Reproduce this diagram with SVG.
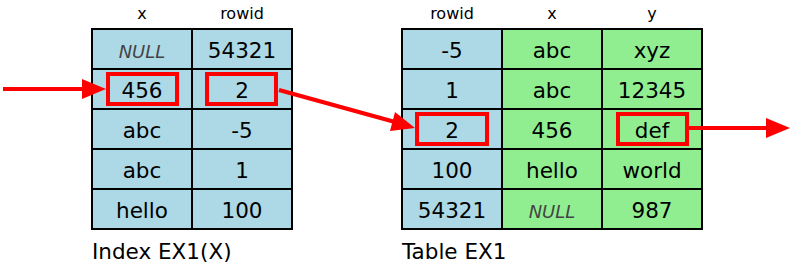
<svg xmlns="http://www.w3.org/2000/svg" width="795" height="274" viewBox="0 0 795 274">
<style>
.b{fill:#add8e6;stroke:#000;stroke-width:2}
.g{fill:#90ee90;stroke:#000;stroke-width:2}
.t{font-family:"DejaVu Sans",sans-serif;font-size:21.5px;text-anchor:middle;fill:#000}
.n{font-family:"DejaVu Sans",sans-serif;font-size:18px;font-style:italic;text-anchor:middle;fill:#444}
.h{font-family:"DejaVu Sans",sans-serif;font-size:16px;text-anchor:middle;fill:#000}
.c{font-family:"DejaVu Sans",sans-serif;font-size:21.5px;fill:#000}
.hl{fill:none;stroke:#f00;stroke-width:4}
.a{stroke:#f00;stroke-width:4;fill:none}
.ah{fill:#f00}
</style>
<g id="index">
<text class="h" x="142" y="19">x</text>
<text class="h" x="242" y="19">rowid</text>
<rect class="b" x="92" y="29" width="100" height="40"/><rect class="b" x="192" y="29" width="100" height="40"/>
<rect class="b" x="92" y="69" width="100" height="40"/><rect class="b" x="192" y="69" width="100" height="40"/>
<rect class="b" x="92" y="109" width="100" height="40"/><rect class="b" x="192" y="109" width="100" height="40"/>
<rect class="b" x="92" y="149" width="100" height="40"/><rect class="b" x="192" y="149" width="100" height="40"/>
<rect class="b" x="92" y="189" width="100" height="40"/><rect class="b" x="192" y="189" width="100" height="40"/>
<text class="n" x="142" y="58">NULL</text><text class="t" x="242" y="58">54321</text>
<text class="t" x="142" y="98">456</text><text class="t" x="242" y="98">2</text>
<text class="t" x="142" y="138">abc</text><text class="t" x="242" y="138">-5</text>
<text class="t" x="142" y="178">abc</text><text class="t" x="242" y="178">1</text>
<text class="t" x="142" y="218">hello</text><text class="t" x="242" y="218">100</text>
<rect class="hl" x="108" y="74" width="69" height="30"/>
<rect class="hl" x="207" y="74" width="69" height="30"/>
<text class="c" x="92" y="259">Index EX1(X)</text>
</g>
<g id="table">
<text class="h" x="452" y="19">rowid</text>
<text class="h" x="552" y="19">x</text>
<text class="h" x="652" y="19">y</text>
<rect class="b" x="402" y="29" width="100" height="40"/><rect class="g" x="502" y="29" width="100" height="40"/><rect class="g" x="602" y="29" width="100" height="40"/>
<rect class="b" x="402" y="69" width="100" height="40"/><rect class="g" x="502" y="69" width="100" height="40"/><rect class="g" x="602" y="69" width="100" height="40"/>
<rect class="b" x="402" y="109" width="100" height="40"/><rect class="g" x="502" y="109" width="100" height="40"/><rect class="g" x="602" y="109" width="100" height="40"/>
<rect class="b" x="402" y="149" width="100" height="40"/><rect class="g" x="502" y="149" width="100" height="40"/><rect class="g" x="602" y="149" width="100" height="40"/>
<rect class="b" x="402" y="189" width="100" height="40"/><rect class="g" x="502" y="189" width="100" height="40"/><rect class="g" x="602" y="189" width="100" height="40"/>
<text class="t" x="452" y="58">-5</text><text class="t" x="552" y="58">abc</text><text class="t" x="652" y="58">xyz</text>
<text class="t" x="452" y="98">1</text><text class="t" x="552" y="98">abc</text><text class="t" x="652" y="98">12345</text>
<text class="t" x="452" y="138">2</text><text class="t" x="552" y="138">456</text><text class="t" x="652" y="138">def</text>
<text class="t" x="452" y="178">100</text><text class="t" x="552" y="178">hello</text><text class="t" x="652" y="178">world</text>
<text class="t" x="452" y="218">54321</text><text class="n" x="552" y="218">NULL</text><text class="t" x="652" y="218">987</text>
<rect class="hl" x="417" y="114" width="70" height="30"/>
<rect class="hl" x="618" y="114" width="69" height="30"/>
<text class="c" x="402" y="259">Table EX1</text>
</g>
<g id="connectors">
<line class="a" x1="3" y1="89" x2="84" y2="89"/>
<polygon class="ah" points="82,79 106,89 82,99"/>
<line class="a" x1="279" y1="90" x2="395" y2="122"/>
<polygon class="ah" points="395,112 415,128 390,131"/>
<line class="a" x1="689" y1="128" x2="768" y2="128"/>
<polygon class="ah" points="766,118 790,128 766,138"/>
</g>
</svg>
